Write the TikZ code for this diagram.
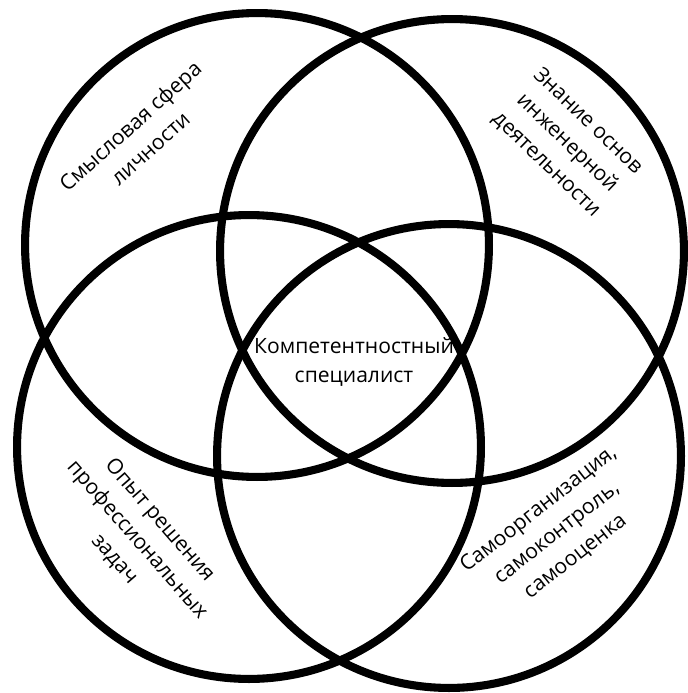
\documentclass[tikz,border=0pt]{standalone}
\usepackage{fontspec}
\setmainfont{Open Sans}
\usepackage{tikz}
\usetikzlibrary{positioning}
\tikzset{
  % Big ring of the diagram
  ring/.style={
    circle,
    draw=black,
    line width=4.6pt,
    minimum size=9.28cm,
    inner sep=0pt
  },
  % Label inside a ring
  rlabel/.style={
    align=center,
    font=\fontsize{12}{17}\selectfont,
    inner sep=1pt
  }
}
\begin{document}
\begin{tikzpicture}[x=0.02cm, y=-0.02cm]
  \useasboundingbox (0,0) rectangle (688,693);
  % Four rings
  \node[ring] (smysl) at (257,245) {};
  \node[ring] (znanie) at (452,251) {};
  \node[ring] (opyt) at (249,447) {};
  \node[ring] (samo) at (449,456) {};
  % Centre
  \node[rlabel] (spec) at (354,362) {Компетентностный\\специалист};
  % Ring labels
  \node[rlabel, rotate=42] (lsmysl) at (140,137) {Смысловая сфера\\личности};
  \node[rlabel, rotate=-44] (lznanie) at (567,143) {Знание основ\\инженерной\\деятельности};
  \node[rlabel, rotate=-49] (lopyt) at (137,540) {Опыт решения\\профессиональных\\задач};
  \node[rlabel, rotate=38] (lsamo) at (557,533) {Самоорганизация,\\самоконтроль,\\самооценка};
\end{tikzpicture}
\end{document}
